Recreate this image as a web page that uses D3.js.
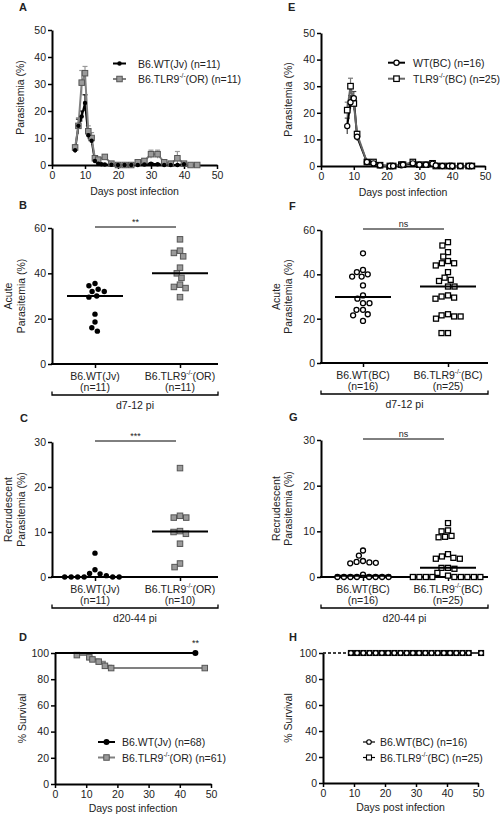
<!DOCTYPE html>
<html><head><meta charset="utf-8">
<script src="https://cdn.jsdelivr.net/npm/d3@7"></script>
<style>body{margin:0;background:#fff}svg text{font-family:"Liberation Sans",Arial,Helvetica,sans-serif}</style>
</head><body><svg id="c" width="502" height="817"></svg>
<script>
// ---------------- DATA ----------------
const dayTicks = [0,10,20,30,40,50];
const parTicks = [0,10,20,30,40,50];
const acuteTicks = [0,20,40,60];
const recrTicks = [0,10,20,30];
const survTicks = [0,20,40,60,80,100];

// Panel A
const legendA = ["B6.WT(Jv) (n=11)", "B6.TLR9^{-/-}(OR) (n=11)"];
const daysA_WT = [7,8,9,10,11,12,13,14,15,16,18,20,22,24,26,28,30,32,34,36,38,40];
const parA_WT  = [5.5,14.5,18,23,11,9,1.5,0.5,0.3,0.2,0.1,0,0,0,0,0.2,0.5,0.3,0,0,0,0.3];
const semA_WT  = [1,2.5,2,3,1.5,1.5,0.5,0.3,0.2,0.1,0.1,0,0,0,0,0.1,0.3,0.2,0,0,0,0.2];
const daysA_TLR = [7,8,9,10,11,12,13,14,16,18,20,22,24,26,28,30,32,34,36,38,40,42,44];
const parA_TLR  = [6.5,14.5,30.5,34,12.5,10,2.5,2,3,0.5,0,0,0,1,1.5,4,4,1,0.5,2.5,0.5,0,0];
const semA_TLR  = [1,3,4.5,2.5,2,2,0.8,0.5,0.8,0.3,0,0,0,0.5,0.8,1.5,1.5,0.5,0.5,2.5,0.5,0,0];

// Panel E
const legendE = ["WT(BC) (n=16)", "TLR9^{-/-}(BC) (n=25)"];
const daysE = [8,9,10,11,14,16,18,21,22,24.5,25,28,30,32,34,35,37,39,40,42.5,45,46];
const parE_WT  = [15,24,25.5,11,1.5,1,0.3,0,0,0.3,0.5,1,0.5,0.5,0.8,0.2,0,0,0,0,0,0];
const semE_WT  = [3,2.5,2.5,1.5,0.5,0.5,0.2,0,0,0.2,0.3,0.5,0.3,0.3,0.4,0.1,0,0,0,0,0,0];
const parE_TLR = [21,30,23.5,12,1.5,1.5,0.3,0,0,0.5,0.5,1.5,0.5,0.5,1,0,0,0,0,0,0,0];
const semE_TLR = [3,3,2.5,1,0.5,0.5,0.2,0,0,0.3,0.3,0.6,0.3,0.3,0.5,0,0,0,0,0,0,0];

// Panel B
const catsB = ["B6.WT(Jv)|(n=11)", "B6.TLR9^{-/-}(OR)|(n=11)"];
const acuteB_WT  = [35.5,34.5,33,32,32,30,29.5,22,18.5,16,14.5];
const acuteB_TLR = [55,50,49,47.5,42.5,40,38,35,34,33.5,29.5];
// Panel F
const catsF = ["B6.WT(BC)|(n=16)", "B6.TLR9^{-/-}(BC)|(n=25)"];
const acuteF_WT  = [49.5,42,41,40,39,39,35,30.5,29,27,27,24,24,22,21.5,19];
const acuteF_TLR = [54.5,53,50,48,46,45,45,44,41,38.5,37.5,37,34.5,34.5,30.5,30,29.5,29,22,21.5,21,21,20,13.5,13.5];
// Panel C
const catsC = ["B6.WT(Jv)|(n=11)", "B6.TLR9^{-/-}(OR)|(n=10)"];
const recrC_WT  = [5.3,1.6,0.8,0.7,0.3,0,0,0,0,0,0];
const recrC_TLR = [24.2,13.6,13.2,13.2,10.2,10,9.6,7.4,3,2.2];
// Panel G
const catsG = ["B6.WT(BC)|(n=16)", "B6.TLR9^{-/-}(BC)|(n=25)"];
const recrG_WT  = [5.8,4.7,3.5,3.3,3.2,3.1,3.0,0.5,0,0,0,0,0,0,0,0];
const recrG_TLR = [11.8,10.2,10,9,8.8,8.7,5,4.5,4.2,4,4,2,2,1.8,0.9,0.3,0,0,0,0,0,0,0,0,0];

// Panel D
const legendD = ["B6.WT(Jv) (n=68)", "B6.TLR9^{-/-}(OR) (n=61)"];
const survDays_WT = [0,45];
const surv_WT = [100,100];
const survDays_TLR = [0,7,11,12,14,16,18,48];
const surv_TLR = [100,98.4,96.7,95.1,93.4,90.2,88.5,88.5];
// Panel H
const legendH = ["B6.WT(BC) (n=16)", "B6.TLR9^{-/-}(BC) (n=25)"];
const survDaysH = [0,9,11,13,15,17,19,21,23,25,27,29,31,33,35,37,39,41,43,45,47,51];
const survH_WT  = survDaysH.map(() => 100);
const survH_TLR = survDaysH.map(() => 100);

// ---------------- DRAW ----------------
const svg = d3.select("#c");
const TXT = "#222";
const GRAY_F = "#9a9a9a", GRAY_S = "#555", GRAY_L = "#808080";

function rich(t, str) {
  const parts = str.split(/(\^\{[^}]*\})/);
  let sup = false;
  parts.forEach(p => {
    if (!p) return;
    if (p.startsWith("^{")) {
      t.append("tspan").attr("font-size", "0.62em").attr("dy", -4).text(p.slice(2, -1));
      sup = true;
    } else {
      const ts = t.append("tspan").text(p);
      if (sup) { ts.attr("dy", 4); sup = false; }
    }
  });
  return t;
}
function text(x, y, str, o = {}) {
  const t = svg.append("text").attr("x", x).attr("y", y)
    .attr("font-size", o.size || 10.5).attr("fill", o.fill || TXT)
    .attr("text-anchor", o.anchor || "start").attr("dominant-baseline", o.base || "central")
    .attr("font-weight", o.bold ? "bold" : null);
  if (o.rotate) t.attr("transform", `rotate(-90,${x},${y})`);
  return rich(t, str);
}
function styleAxis(g) {
  g.select(".domain").attr("stroke", "#000").attr("stroke-width", 2);
  g.selectAll(".tick line").attr("stroke", "#000").attr("stroke-width", 1.5);
  g.selectAll(".tick text").attr("font-size", 10.5).attr("fill", TXT)
    .attr("font-family", '"Liberation Sans",Arial,sans-serif');
}
function marker(g, type, x, y, o) {
  if (type === "dot") {
    g.append("circle").attr("cx", x).attr("cy", y).attr("r", o.r || 2.6)
      .attr("fill", o.fill || "#000").attr("stroke", o.stroke || "none").attr("stroke-width", o.sw || 0);
  } else if (type === "circle") {
    g.append("circle").attr("cx", x).attr("cy", y).attr("r", o.r || 2.6)
      .attr("fill", o.fill || "#fff").attr("stroke", o.stroke || "#000").attr("stroke-width", o.sw || 1.3);
  } else {
    const s = o.s || 5.5;
    g.append("rect").attr("x", x - s / 2).attr("y", y - s / 2).attr("width", s).attr("height", s)
      .attr("fill", o.fill || "#fff").attr("stroke", o.stroke || "#000").attr("stroke-width", o.sw || 1.2);
  }
}
function yLabel(x, cy, lines, dx) {
  lines.forEach((l, i) => text(x + i * dx, cy, l, { anchor: "middle", rotate: true, size: 10.5 }));
}

// ---- time course panels ----
function linePanel(c) {
  const x = d3.scaleLinear().domain([0, 50]).range([c.x0, c.x1]);
  const y = d3.scaleLinear().domain([0, 50]).range([c.yb, c.yt]);
  svg.append("g").attr("transform", `translate(0,${c.yb})`)
    .call(d3.axisBottom(x).tickValues(dayTicks).tickSize(4).tickSizeOuter(0).tickPadding(3)).call(styleAxis);
  svg.append("g").attr("transform", `translate(${c.x0},0)`)
    .call(d3.axisLeft(y).tickValues(parTicks).tickSize(4).tickSizeOuter(0).tickPadding(2)).call(styleAxis);
  text((c.x0 + c.x1) / 2, c.yb + 26, "Days post infection", { anchor: "middle" });
  yLabel(c.ylx, (c.yb + c.yt) / 2, ["Parasitemia (%)"], 0);
  text(c.lx, c.ly, c.letter, { bold: true, size: 11, base: "auto" });
  const g = svg.append("g");
  const line = d3.line().x(d => x(d[0])).y(d => y(d[1]));
  c.series.forEach(s => {
    s.days.forEach((d, i) => {
      if (!s.sem[i]) return;
      const xx = x(d), y1 = y(s.vals[i] + s.sem[i]), y2 = y(Math.max(0, s.vals[i] - s.sem[i]));
      g.append("line").attr("x1", xx).attr("x2", xx).attr("y1", y1).attr("y2", y2).attr("stroke", s.err).attr("stroke-width", 1.2);
      g.append("line").attr("x1", xx - 2.5).attr("x2", xx + 2.5).attr("y1", y1).attr("y2", y1).attr("stroke", s.err).attr("stroke-width", 1.2);
    });
  });
  c.series.forEach(s => {
    g.append("path").attr("d", line(s.days.map((d, i) => [d, s.vals[i]])))
      .attr("fill", "none").attr("stroke", s.line).attr("stroke-width", 2);
  });
  c.series.slice().reverse().forEach(s => {
    s.days.forEach((d, i) => marker(g, s.type, x(d), y(s.vals[i]), s.m));
  });
  c.series.forEach((s, i) => {
    const ly = c.legY + i * c.legDy;
    g.append("line").attr("x1", c.legX0).attr("x2", c.legX1).attr("y1", ly).attr("y2", ly).attr("stroke", s.line).attr("stroke-width", 2);
    marker(g, s.type, (c.legX0 + c.legX1) / 2, ly, s.m);
    text(c.legT, ly, c.legend[i]);
  });
}

linePanel({
  letter: "A", lx: 19, ly: 11, x0: 52, x1: 217, yb: 165, yt: 30, ylx: 20,
  legend: legendA, legX0: 113, legX1: 126, legT: 138, legY: 63.5, legDy: 15.5,
  series: [
    { days: daysA_WT, vals: parA_WT, sem: semA_WT, type: "dot", line: "#000", err: "#000", m: { r: 2.2 } },
    { days: daysA_TLR, vals: parA_TLR, sem: semA_TLR, type: "square", line: GRAY_L, err: "#999", m: { s: 5.5, fill: GRAY_F, stroke: GRAY_S, sw: 1 } }
  ]
});
linePanel({
  letter: "E", lx: 288, ly: 11, x0: 321, x1: 485, yb: 166, yt: 33, ylx: 288,
  legend: legendE, legX0: 388, legX1: 405, legT: 413, legY: 62.7, legDy: 16,
  series: [
    { days: daysE, vals: parE_WT, sem: semE_WT, type: "circle", line: "#000", err: "#444", m: { r: 2.6, sw: 1.2 } },
    { days: daysE, vals: parE_TLR, sem: semE_TLR, type: "square", line: "#666", err: "#777", m: { s: 5.5, sw: 1.2 } }
  ]
});

// ---- scatter panels ----
function swarm(vals, y, d) {
  const placed = [];
  const order = vals.map((v, i) => i).sort((a, b) => vals[b] - vals[a]);
  const off = new Array(vals.length);
  order.forEach(i => {
    const yy = y(vals[i]);
    const blocks = [];
    placed.forEach(p => {
      const dy = Math.abs(p.y - yy);
      if (dy < d) { const w = Math.sqrt(d * d - dy * dy); blocks.push([p.x - w, p.x + w]); }
    });
    const cands = [0];
    blocks.forEach(b => { cands.push(b[0], b[1]); });
    cands.sort((a, b) => Math.abs(a) - Math.abs(b) || a - b);
    let best = 0;
    for (const cx of cands) {
      if (!blocks.some(b => cx > b[0] + 1e-6 && cx < b[1] - 1e-6)) { best = cx; break; }
    }
    off[i] = best; placed.push({ x: best, y: yy });
  });
  return off;
}
function scatterPanel(c) {
  const y = d3.scaleLinear().domain([0, c.ymax]).range([c.yb, c.yt]);
  const xc = d3.scalePoint().domain(c.cats).range([c.c1, c.c2]);
  svg.append("g").attr("transform", `translate(${c.x0},0)`)
    .call(d3.axisLeft(y).tickValues(c.ticks).tickSize(4).tickSizeOuter(0).tickPadding(2)).call(styleAxis);
  const xa = svg.append("g").attr("transform", `translate(0,${c.yb})`)
    .call(d3.axisBottom(xc).tickSize(4).tickFormat(""));
  xa.select(".domain").remove();
  xa.selectAll(".tick line").attr("stroke", "#000").attr("stroke-width", 1.5);
  svg.append("line").attr("x1", c.x0 - 1).attr("x2", c.x1).attr("y1", c.yb).attr("y2", c.yb).attr("stroke", "#000").attr("stroke-width", 2);
  c.cats.forEach(k => {
    const [l1, l2] = k.split("|");
    text(xc(k), c.yb + 11.5, l1, { anchor: "middle" });
    text(xc(k), c.yb + 23, l2, { anchor: "middle" });
  });
  const by = c.yb + 31;
  svg.append("path").attr("d", `M${c.x0},${by - 3.5}V${by}H${c.x1}V${by - 3.5}`).attr("fill", "none").attr("stroke", "#000").attr("stroke-width", 1.3);
  text((c.x0 + c.x1) / 2, by + 9.5, c.group, { anchor: "middle" });
  const sy = c.yt - 1;
  svg.append("line").attr("x1", xc(c.cats[0])).attr("x2", xc(c.cats[1]) - 4).attr("y1", sy).attr("y2", sy).attr("stroke", "#000").attr("stroke-width", 1);
  text((xc(c.cats[0]) + xc(c.cats[1])) / 2 - 2, sy - 5, c.sig, { anchor: "middle", size: 9 });
  yLabel(c.ylx, (c.yb + c.yt) / 2, c.ylab, 12.5);
  text(c.lx, c.ly, c.letter, { bold: true, size: 11, base: "auto" });
  const g = svg.append("g");
  c.series.forEach((s, j) => {
    const cx = xc(c.cats[j]);
    const off = swarm(s.vals, y, c.d);
    s.vals.forEach((v, i) => marker(g, s.type, cx + off[i], y(v), s.m));
  });
  c.series.forEach((s, j) => {
    const cx = xc(c.cats[j]), m = d3.median(s.vals);
    g.append("line").attr("x1", cx - 28).attr("x2", cx + 28).attr("y1", y(m)).attr("y2", y(m)).attr("stroke", "#000").attr("stroke-width", 2);
  });
}
const wtFilled = { type: "dot", m: { r: 2.7 } };
const tlrGray = { type: "square", m: { s: 5.5, fill: GRAY_F, stroke: GRAY_S, sw: 1 } };
const wtOpen = { type: "circle", m: { r: 2.5, sw: 1.3 } };
const tlrOpen = { type: "square", m: { s: 5, sw: 1.3 } };

scatterPanel({ letter: "B", lx: 19, ly: 209, x0: 52, x1: 218, c1: 95, c2: 180, yb: 364, yt: 228, ymax: 60, ticks: acuteTicks,
  cats: catsB, group: "d7-12 pi", sig: "**", ylab: ["Acute", "Parasitemia (%)"], ylx: 8, d: 6.5,
  series: [{ vals: acuteB_WT, ...wtFilled }, { vals: acuteB_TLR, ...tlrGray }] });
scatterPanel({ letter: "F", lx: 289, ly: 210, x0: 321, x1: 488, c1: 363, c2: 448, yb: 363, yt: 230, ymax: 60, ticks: acuteTicks,
  cats: catsF, group: "d7-12 pi", sig: "ns", ylab: ["Acute", "Parasitemia (%)"], ylx: 275.5, d: 6.5,
  series: [{ vals: acuteF_WT, ...wtOpen }, { vals: acuteF_TLR, ...tlrOpen }] });
scatterPanel({ letter: "C", lx: 20, ly: 422, x0: 52, x1: 218, c1: 95, c2: 180, yb: 577, yt: 442, ymax: 30, ticks: recrTicks,
  cats: catsC, group: "d20-44 pi", sig: "***", ylab: ["Recrudescent", "Parasitemia (%)"], ylx: 8, d: 6.5,
  series: [{ vals: recrC_WT, ...wtFilled }, { vals: recrC_TLR, ...tlrGray }] });
scatterPanel({ letter: "G", lx: 289, ly: 421, x0: 321, x1: 488, c1: 363, c2: 448, yb: 577, yt: 440, ymax: 30, ticks: recrTicks,
  cats: catsG, group: "d20-44 pi", sig: "ns", ylab: ["Recrudescent", "Parasitemia (%)"], ylx: 275.5, d: 6.5,
  series: [{ vals: recrG_WT, ...wtOpen }, { vals: recrG_TLR, ...tlrOpen }] });

// ---- survival panels ----
function survPanel(c) {
  const x = d3.scaleLinear().domain([0, 50]).range([c.x0, c.x1]);
  const y = d3.scaleLinear().domain([0, 100]).range([c.yb, c.yt]);
  svg.append("g").attr("transform", `translate(0,${c.yb})`)
    .call(d3.axisBottom(x).tickValues(dayTicks).tickSize(4).tickSizeOuter(0).tickPadding(3)).call(styleAxis);
  svg.append("g").attr("transform", `translate(${c.x0},0)`)
    .call(d3.axisLeft(y).tickValues(survTicks).tickSize(4).tickSizeOuter(0).tickPadding(2)).call(styleAxis);
  text((c.x0 + c.x1) / 2, c.yb + 24, "Days post infection", { anchor: "middle" });
  yLabel(c.ylx, (c.yb + c.yt) / 2, ["% Survival"], 0);
  text(c.lx, c.ly, c.letter, { bold: true, size: 11, base: "auto" });
  const g = svg.append("g");
  const line = d3.line().curve(d3.curveStepAfter).x(d => x(d[0])).y(d => y(d[1]));
  c.series.slice().reverse().forEach(s => {
    const pts = s.days.map((d, i) => [d, s.vals[i]]);
    if (c.dashFirst) {
      g.append("path").attr("d", line(pts.slice(0, 2))).attr("fill", "none").attr("stroke", s.line).attr("stroke-width", 1.2).attr("stroke-dasharray", "3,2");
      g.append("path").attr("d", line(pts.slice(1))).attr("fill", "none").attr("stroke", s.line).attr("stroke-width", 1.2);
    } else {
      g.append("path").attr("d", line(pts)).attr("fill", "none").attr("stroke", s.line).attr("stroke-width", 2);
    }
    pts.slice(1).forEach(p => marker(g, s.type, x(p[0]), y(p[1]), s.m));
  });
  c.series.forEach((s, i) => {
    const ly = c.legY + i * c.legDy;
    g.append("line").attr("x1", c.legX0).attr("x2", c.legX1).attr("y1", ly).attr("y2", ly).attr("stroke", s.line).attr("stroke-width", c.dashFirst ? 1.2 : 2);
    marker(g, s.type, (c.legX0 + c.legX1) / 2, ly, s.m);
    text(c.legT, ly, c.legend[i]);
  });
  if (c.sig) text(x(45), c.yt - 10, c.sig, { anchor: "middle", size: 9 });
}
survPanel({ letter: "D", lx: 19, ly: 641, x0: 55, x1: 211, yb: 784, yt: 653, ylx: 22, sig: "**",
  legend: legendD, legX0: 98, legX1: 115, legT: 122, legY: 742, legDy: 15.5,
  series: [
    { days: survDays_WT, vals: surv_WT, type: "dot", line: "#000", m: { r: 3 } },
    { days: survDays_TLR, vals: surv_TLR, type: "square", line: GRAY_L, m: { s: 5.5, fill: GRAY_F, stroke: GRAY_S, sw: 1 } }
  ] });
survPanel({ letter: "H", lx: 289, ly: 641, x0: 323, x1: 478, yb: 783, yt: 653, ylx: 288, dashFirst: true,
  legend: legendH, legX0: 363, legX1: 375, legT: 380, legY: 742, legDy: 15.5,
  series: [
    { days: survDaysH, vals: survH_WT, type: "circle", line: "#000", m: { r: 2.3, sw: 1.1 } },
    { days: survDaysH, vals: survH_TLR, type: "square", line: "#000", m: { s: 5, sw: 1.1 } }
  ] });
</script></body></html>
